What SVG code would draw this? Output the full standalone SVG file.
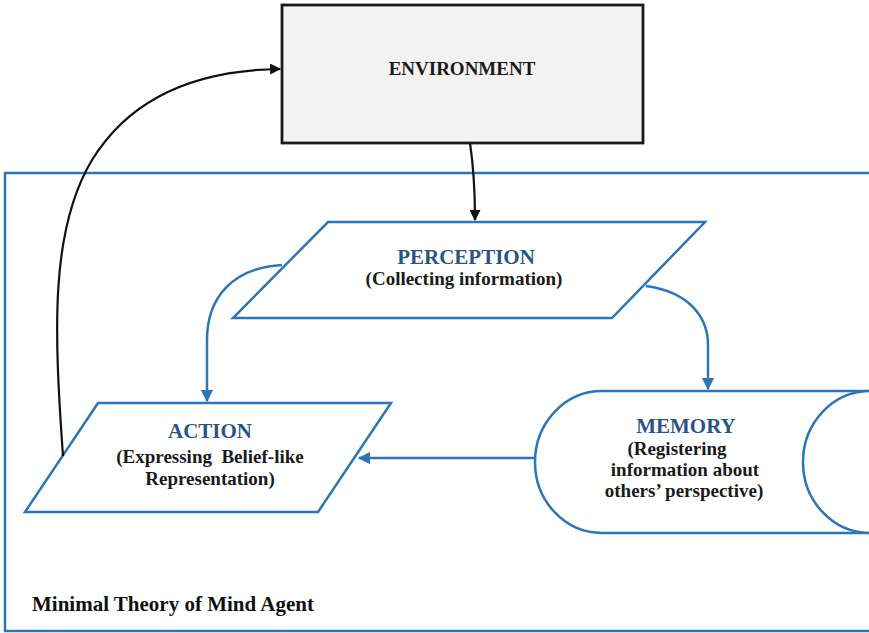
<svg xmlns="http://www.w3.org/2000/svg" width="869" height="633" viewBox="0 0 869 633">
  <style>
    .blue { fill: none; stroke: #2e75b6; stroke-width: 2.5; }
    .shape { fill: #ffffff; stroke: #2e75b6; stroke-width: 2.5; }
    .title { font-family: "Liberation Serif", "Times New Roman", serif; font-weight: bold; font-size: 21px; fill: #2b5485; text-anchor: middle; }
    .sub { font-family: "Liberation Serif", "Times New Roman", serif; font-weight: bold; font-size: 19px; fill: #1a1a1a; text-anchor: middle; }
    .black { fill: none; stroke: #111111; stroke-width: 2.2; }
  </style>
  <defs>
    <marker id="arrowBlue" viewBox="0 0 10 10" refX="9" refY="5" markerWidth="5" markerHeight="5" orient="auto" markerUnits="strokeWidth">
      <path d="M0,0 L10,5 L0,10 z" fill="#2e75b6"/>
    </marker>
    <marker id="arrowBlack" viewBox="0 0 10 10" refX="9" refY="5" markerWidth="5" markerHeight="5" orient="auto" markerUnits="strokeWidth">
      <path d="M0,0 L10,5 L0,10 z" fill="#111111"/>
    </marker>
  </defs>

  <rect width="869" height="633" fill="#ffffff"/>

  <!-- agent boundary -->
  <g id="agent">
    <rect x="5" y="173" width="875" height="458" class="blue"/>
    <text x="32" y="611" font-family="'Liberation Serif', 'Times New Roman', serif" font-weight="bold" font-size="21" fill="#111111">Minimal Theory of Mind Agent</text>
  </g>

  <!-- environment box -->
  <g id="environment">
    <rect x="282" y="5" width="361" height="138" fill="#f2f2f2" stroke="#1a1a1a" stroke-width="2.8"/>
    <text x="462" y="75" font-family="'Liberation Serif', 'Times New Roman', serif" font-weight="bold" font-size="19" fill="#1a1a1a" text-anchor="middle">ENVIRONMENT</text>
  </g>

  <!-- perception -->
  <g id="perception">
    <polygon points="328,222 705,222 612,318 233,318" class="shape"/>
    <text x="466" y="264" class="title">PERCEPTION</text>
    <text x="464" y="285" class="sub">(Collecting information)</text>
  </g>

  <!-- action -->
  <g id="action">
    <polygon points="98,403 391,403 318,512 25,512" class="shape"/>
    <text x="210" y="438" class="title">ACTION</text>
    <text x="210" y="463" class="sub" xml:space="preserve">(Expressing  Belief-like</text>
    <text x="210" y="485" class="sub">Representation)</text>
  </g>

  <!-- memory (horizontal cylinder, right end runs off the edge) -->
  <g id="memory">
    <path d="M870,391 L602,391 A67,71 0 0 0 602,533 L870,533" class="shape"/>
    <ellipse cx="870" cy="462" rx="67" ry="71" class="shape"/>
    <text x="686" y="433" class="title">MEMORY</text>
    <text x="677" y="455" class="sub">(Registering</text>
    <text x="685" y="476" class="sub">information about</text>
    <text x="684" y="497" class="sub">others’ perspective)</text>
  </g>

  <!-- connectors -->
  <g id="connectors">
    <path d="M470,143 C474,170 475,195 475,220" class="black" marker-end="url(#arrowBlack)"/>
    <path d="M63,456 C54,330 50,230 92,160 C132,95 200,70 280,69" class="black" marker-end="url(#arrowBlack)"/>
    <path d="M282,265 C232,268 207,298 207,340 L207,401" class="blue" marker-end="url(#arrowBlue)"/>
    <path d="M646,286 C690,292 708,318 708,345 L708,389" class="blue" marker-end="url(#arrowBlue)"/>
    <path d="M535,458 L359,458" class="blue" marker-end="url(#arrowBlue)"/>
  </g>
</svg>
